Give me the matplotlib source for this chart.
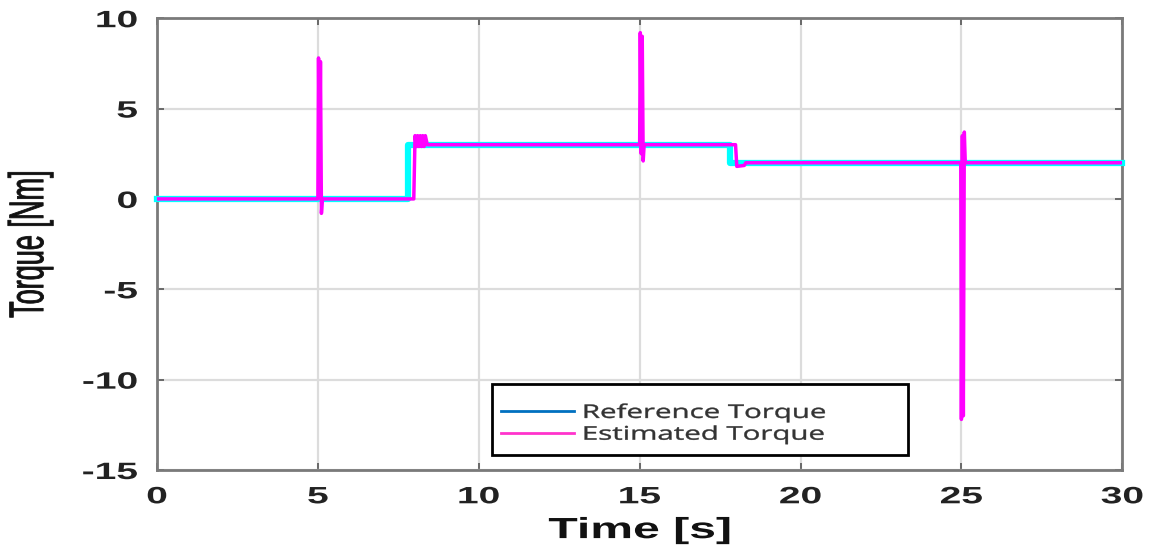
import matplotlib
matplotlib.use("Agg")
import matplotlib.pyplot as plt
from matplotlib.lines import Line2D
from matplotlib.patches import Rectangle
from matplotlib.patheffects import AbstractPathEffect
from matplotlib.transforms import Affine2D

plt.rcParams["axes.unicode_minus"] = False

# Reference torque (step profile) and estimated torque with transients
t_ref = [0.0, 7.8, 17.8, 30.0]
torque_ref = [0.0, 3.0, 2.0, 2.0]

t_est = [0.0, 5.0, 5.02, 5.05, 5.08, 5.11, 5.14, 5.2,
         7.98, 8.02, 8.06, 8.1, 8.14, 8.18, 8.22, 8.26, 8.3, 8.34, 8.4,
         15.0, 15.02, 15.05, 15.08, 15.11, 15.14, 15.2,
         17.98, 18.02, 18.25, 18.3,
         24.98, 25.0, 25.03, 25.06, 25.09, 25.12, 25.2, 30.0]
torque_est = [0.0, 0.0, 7.8, 0.5, 7.6, -0.8, 0.0, 0.0,
              0.0, 3.5, 2.9, 3.5, 2.9, 3.5, 2.9, 3.5, 2.9, 3.5, 3.0,
              3.0, 9.2, 2.5, 9.0, 2.1, 3.0, 3.0,
              3.0, 1.8, 1.85, 2.0,
              2.0, -12.2, 3.5, -12.0, 3.7, 2.0, 2.0, 2.0]

x_ticks = [0, 5, 10, 15, 20, 25, 30]
y_ticks = [-15, -10, -5, 0, 5, 10]
legend_labels = ["Reference Torque", "Estimated Torque"]


class HStretch(AbstractPathEffect):
    """Widen glyph outlines horizontally around an anchor edge."""

    def __init__(self, sx, anchor="center", stroke=0.0):
        super().__init__()
        self.sx = sx
        self.anchor = anchor
        self.stroke = stroke

    def draw_path(self, renderer, gc, tpath, affine, rgbFace=None):
        ext = tpath.get_extents(affine)
        if self.anchor == "left":
            x0 = ext.x0
        elif self.anchor == "right":
            x0 = ext.x1
        else:
            x0 = 0.5 * (ext.x0 + ext.x1)
        tr = affine + Affine2D().translate(-x0, 0).scale(self.sx, 1.0).translate(x0, 0)
        gc0 = renderer.new_gc()
        gc0.copy_properties(gc)
        if self.stroke > 0 and rgbFace is not None:
            gc0.set_linewidth(self.stroke)
            gc0.set_foreground(rgbFace)
        renderer.draw_path(gc0, tpath, tr, rgbFace)
        gc0.restore()


SX = 1.65

fig = plt.figure(figsize=(11.57, 5.51), dpi=100)
ax = fig.add_axes([0.1357, 0.147, 0.970 - 0.1357, 0.967 - 0.147])

ax.step(t_ref, torque_ref, where="post", color="#00FFFF", lw=4.5,
        solid_capstyle="projecting", clip_on=False, zorder=3)
ax.plot(t_est, torque_est, color="#FF00FF", lw=2.5, zorder=4)

ax.set_xlim(0, 30)
ax.set_ylim(-15, 10)
ax.set_xticks(x_ticks)
ax.set_yticks(y_ticks)
ax.grid(True, color="#dcdcdc", lw=1.6)
ax.set_axisbelow(True)

for sp in ax.spines.values():
    sp.set_color("#7a7a7a")
    sp.set_linewidth(2.0)

ax.tick_params(direction="in", length=5, width=1.2, color="#555555",
               top=True, right=True)
ax.tick_params(axis="x", pad=11)
ax.tick_params(axis="y", pad=14)

for lab in ax.get_xticklabels():
    lab.set_fontfamily("Liberation Sans")
    lab.set_fontweight("bold")
    lab.set_fontsize(17)
    lab.set_color("#222222")
    lab.set_path_effects([HStretch(SX, "center")])
for lab in ax.get_yticklabels():
    lab.set_fontfamily("Liberation Sans")
    lab.set_fontweight("bold")
    lab.set_fontsize(17)
    lab.set_color("#222222")
    lab.set_path_effects([HStretch(SX, "right")])

xl = ax.set_xlabel("Time [s]", family="Liberation Sans", fontweight="bold",
                   fontsize=21, color="#111111")
xl.set_path_effects([HStretch(SX, "center")])
ax.xaxis.set_label_coords(0.5, -0.102)

yl = ax.set_ylabel("Torque [Nm]", family="Liberation Sans", fontsize=19.5,
                   color="#111111")
yl.set_path_effects([HStretch(1.8, "center", stroke=0.6)])
yl.set_verticalalignment("center")
ax.yaxis.set_label_coords(-0.131, 0.5)

# Legend box drawn as its own frame, entries placed inside it
ax.add_patch(Rectangle((0.347, 0.0332), 0.431, 0.157, transform=ax.transAxes,
                       facecolor="white", edgecolor="black", lw=2.0,
                       zorder=4.9))
handles = [Line2D([], [], color="#0070C0", lw=2.0),
           Line2D([], [], color="#FF33CC", lw=2.0)]
leg = ax.legend(handles, legend_labels, loc="upper left",
                bbox_to_anchor=(0.347, 0.167), frameon=False,
                borderaxespad=0, prop={"family": "Open Sans", "size": 13.5},
                handlelength=3.9, handletextpad=0.45, borderpad=0.5,
                labelspacing=0.2)
leg.set_zorder(5)
for txt in leg.get_texts():
    txt.set_color("#333333")
    txt.set_path_effects([HStretch(1.57, "left", stroke=0.3)])

fig.savefig("out.png", dpi=100)
